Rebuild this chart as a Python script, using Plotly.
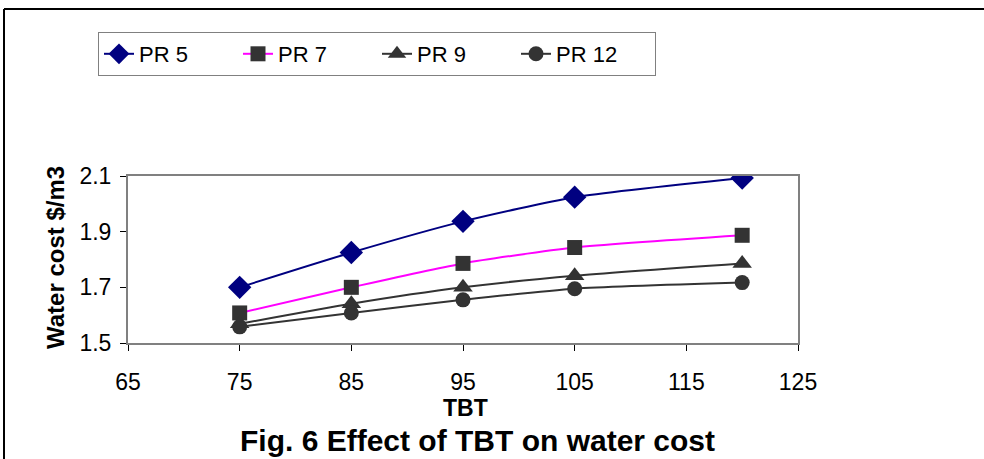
import plotly.graph_objects as go

tbt = [75, 85, 95, 105, 120]
pr5 = [1.70, 1.825, 1.937, 2.024, 2.093]
pr7 = [1.608, 1.70, 1.786, 1.843, 1.887]
pr9 = [1.569, 1.641, 1.70, 1.742, 1.786]
pr12 = [1.558, 1.608, 1.655, 1.695, 1.717]
x_ticks = [65, 75, 85, 95, 105, 115, 125]
y_ticks = [1.5, 1.7, 1.9, 2.1]

W, H = 984, 459
L, R, T, B = 128, 798, 176, 343
pw, ph = R - L, B - T

fig = go.Figure()
series = [
    ("PR 5", pr5, "#000080", "diamond", "#000080", 18),
    ("PR 7", pr7, "#FF00FF", "square", "#333333", 15),
    ("PR 9", pr9, "#333333", "triangle-up", "#333333", 17),
    ("PR 12", pr12, "#333333", "circle", "#333333", 15),
]
for name, ys, lc, sym, mc, ms in series:
    fig.add_trace(go.Scatter(
        x=tbt, y=ys, name=name, mode="lines+markers",
        line=dict(color=lc, width=2, shape="spline", smoothing=0.6),
        marker=dict(symbol=sym, color=mc, size=ms, line=dict(width=0)),
    ))

def px(xp):
    return (xp - L) / pw

def py(yp):
    return (B - yp) / ph

fig.update_layout(
    width=W, height=H,
    margin=dict(l=L, r=W - R, t=T, b=H - B, pad=0),
    paper_bgcolor="white", plot_bgcolor="white",
    font=dict(family="Liberation Sans, Arial, sans-serif", color="black"),
    showlegend=True,
    legend=dict(
        orientation="h", x=px(98), y=py(32), xanchor="left", yanchor="top",
        bordercolor="#808080", borderwidth=1, bgcolor="white",
        font=dict(size=22), itemwidth=30, tracegroupgap=0,
        entrywidth=94, entrywidthmode="pixels",
    ),
    xaxis=dict(
        range=[65, 125], tickvals=x_ticks, ticktext=[str(v) for v in x_ticks],
        showgrid=False, zeroline=False, ticks="outside", ticklen=6,
        tickcolor="black", tickfont=dict(size=23), ticklabelstandoff=11,
        showline=True, linecolor="#808080", linewidth=2, mirror=True,
    ),
    yaxis=dict(
        range=[1.5, 2.1], tickvals=y_ticks, ticktext=[f"{v:.1f}" for v in y_ticks],
        showgrid=False, zeroline=False, ticks="outside", ticklen=6,
        tickcolor="black", tickfont=dict(size=23), ticklabelstandoff=4,
        showline=True, linecolor="#808080", linewidth=2, mirror=True,
    ),
    annotations=[
        dict(text="<b>Water cost $/m3</b>", x=px(55), y=py(258), xref="paper", yref="paper",
             showarrow=False, font=dict(size=24), textangle=-90,
             xanchor="center", yanchor="middle"),
        dict(text="<b>TBT</b>", x=px(465), y=py(408), xref="paper", yref="paper",
             showarrow=False, font=dict(size=23), xanchor="center", yanchor="middle"),
        dict(text="<b>Fig. 6 Effect of TBT on water cost</b>", x=px(478), y=py(440),
             xref="paper", yref="paper", showarrow=False, font=dict(size=30),
             xanchor="center", yanchor="middle"),
    ],
    shapes=[
        dict(type="line", xref="paper", yref="paper", x0=px(4), x1=px(4),
             y0=py(9), y1=py(470), line=dict(color="black", width=2)),
        dict(type="line", xref="paper", yref="paper", x0=px(4), x1=px(990),
             y0=py(9), y1=py(9), line=dict(color="black", width=2)),
    ],
)

fig.write_html("out.html")
